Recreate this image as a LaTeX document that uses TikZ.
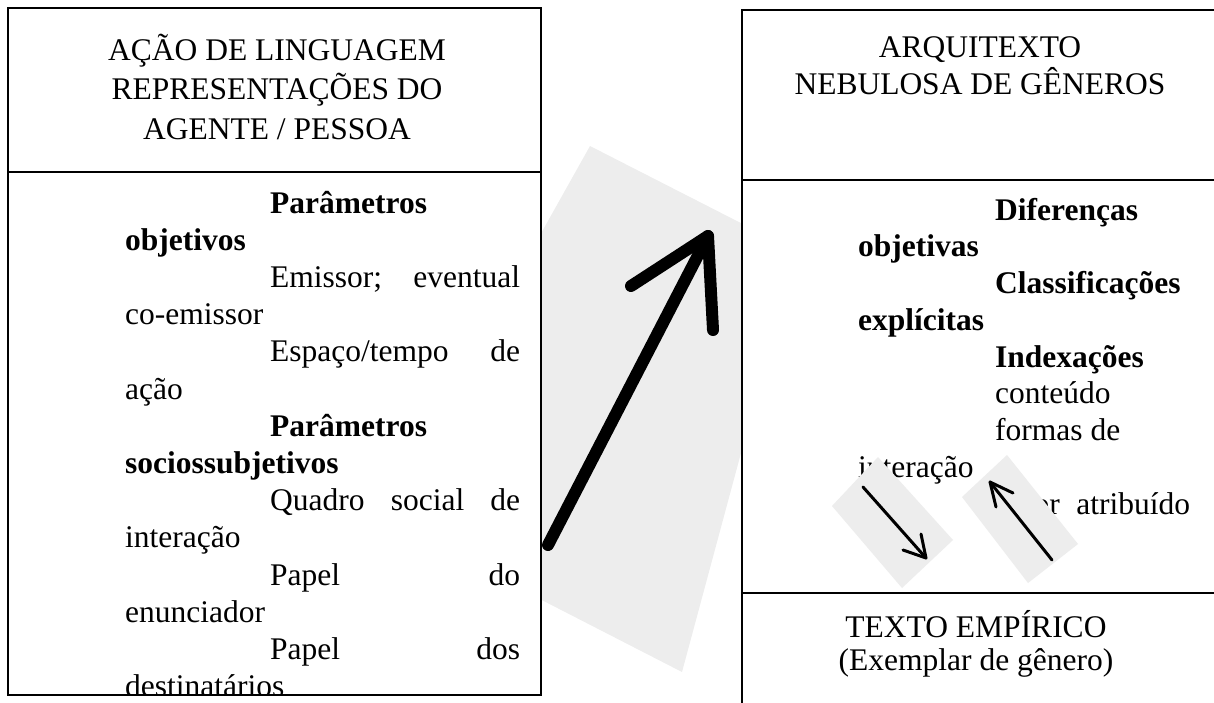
\documentclass[tikz,border=0pt]{standalone}
\usepackage{fontspec}
\setmainfont{Liberation Serif}
\begin{document}
\begin{tikzpicture}[x=1pt,y=-1pt,
  boxline/.style={line width=1.8pt, draw=black},
  txt/.style={font=\rmfamily\fontsize{31.5}{37}\selectfont, inner sep=0pt, anchor=base west},
  ctxt/.style={font=\rmfamily\fontsize{31.5}{37}\selectfont, inner sep=0pt, anchor=base},
  patch/.style={fill=black!7, draw=none},
  thinarrow/.style={line width=3pt, line cap=round, line join=round},
  bigarrow/.style={line width=12pt, line cap=round, line join=round}]
\useasboundingbox (0,0) rectangle (1214,702);
\clip (0,0) rectangle (1214,702);
% big photo patch
\fill[patch] (590,146) -- (780,243) -- (741,453) -- (682,672) -- (530,594) -- (530,253) -- cycle;
% left box
\draw[boxline, fill=white] (8,8) rectangle (541,695);
\draw[boxline] (8,172) -- (541,172);
% right box
\draw[boxline, fill=white] (742,10) rectangle (1240,730);
\draw[boxline] (742,180) -- (1240,180);
\draw[boxline] (742,593) -- (1240,593);
% big arrow
\coordinate (bs) at (548,545);
\coordinate (bt) at (708,236);
\coordinate (bb1) at (631,286);
\coordinate (bb2) at (713,330);
\draw[bigarrow] (bs) -- (bt);
\draw[bigarrow] (bb1) -- (bt) -- (bb2);
% left header
\node[ctxt] (lh1) at (277,60) {AÇÃO DE LINGUAGEM};
\node[ctxt] (lh2) at (277,99.5) {REPRESENTAÇÕES DO};
\node[ctxt] (lh3) at (277,139) {AGENTE / PESSOA};
% left body
\begin{scope}
\clip (9,173) rectangle (540,694);
\node[txt] (l1) at (270,213) {\textbf{Parâmetros}};
\node[txt] (l2) at (125,250.2) {\textbf{objetivos}};
\node[txt] (l3) at (270,287.4) {\makebox[250pt][s]{Emissor; eventual}};
\node[txt] (l4) at (125,324.6) {co-emissor};
\node[txt] (l5) at (270,361.8) {\makebox[250pt][s]{Espaço/tempo de}};
\node[txt] (l6) at (125,399) {ação};
\node[txt] (l7) at (270,436.2) {\textbf{Parâmetros}};
\node[txt] (l8) at (125,473.4) {\textbf{sociossubjetivos}};
\node[txt] (l9) at (270,510.6) {\makebox[250pt][s]{Quadro social de}};
\node[txt] (l10) at (125,547.8) {interação};
\node[txt] (l11) at (270,585) {\makebox[250pt][s]{Papel do}};
\node[txt] (l12) at (125,622.2) {enunciador};
\node[txt] (l13) at (270,659.4) {\makebox[250pt][s]{Papel dos}};
\node[txt] (l14) at (125,696.6) {destinatários};
\end{scope}
% right header
\node[ctxt] (rh1) at (980,57) {ARQUITEXTO};
\node[ctxt] (rh2) at (980,94) {NEBULOSA DE GÊNEROS};
% right body
\node[txt] (r1) at (995,220) {\textbf{Diferenças}};
\node[txt] (r2) at (858,256.75) {\textbf{objetivas}};
\node[txt] (r3) at (995,293.5) {\textbf{Classificações}};
\node[txt] (r4) at (858,330.25) {\textbf{explícitas}};
\node[txt] (r5) at (995,367) {\textbf{Indexações}};
\node[txt] (r6) at (995,403.75) {conteúdo};
\node[txt] (r7) at (995,440.5) {formas de};
\node[txt] (r8) at (858,477.25) {interação};
\node[txt] (r9) at (995,514) {\makebox[195pt][s]{valor atribuído}};
% bottom
\node[ctxt] (b1) at (976,637) {TEXTO EMPÍRICO};
\node[ctxt] (b2) at (976,670) {(Exemplar de gênero)};
% small photo patches
\fill[patch] (832,506) -- (878,457) -- (953,540) -- (902,588) -- cycle;
\fill[patch] (962,497) -- (1007,455) -- (1078,544) -- (1028,583) -- cycle;
% small arrows
\coordinate (as) at (863,487);
\coordinate (at) at (926,558);
\coordinate (ab1) at (903,550);
\coordinate (ab2) at (921,534);
\draw[thinarrow] (as) -- (at);
\draw[thinarrow] (ab1) -- (at) -- (ab2);
\coordinate (cs) at (1052,560);
\coordinate (ct) at (990,482);
\coordinate (cb1) at (1013,493);
\coordinate (cb2) at (996,507);
\draw[thinarrow] (cs) -- (ct);
\draw[thinarrow] (cb1) -- (ct) -- (cb2);
\end{tikzpicture}
\end{document}
